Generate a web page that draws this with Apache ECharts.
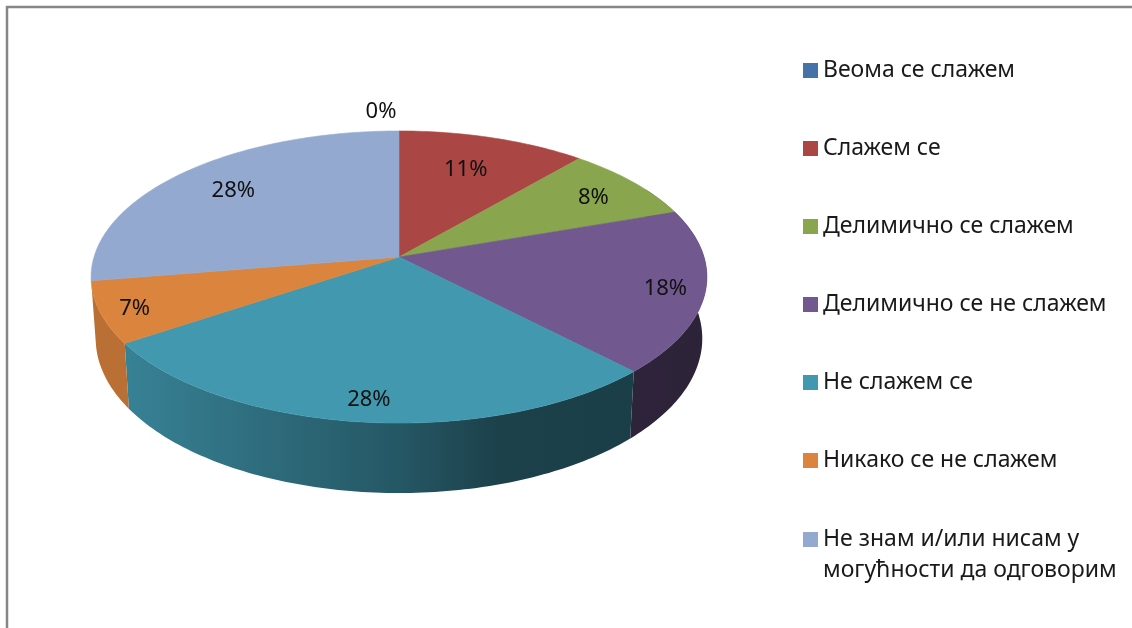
<!DOCTYPE html>
<html>
<head>
<meta charset="utf-8">
<style>
	html, body { margin: 0; padding: 0; background: #fff; }
	#chart { width: 1132px; height: 628px; }
</style>
<script src="https://cdn.jsdelivr.net/npm/echarts@6/dist/echarts.min.js"></script>
</head>
<body>
<div id="chart"></div>
<script>
var categories = ['Веома се слажем', 'Слажем се', 'Делимично се слажем', 'Делимично се не слажем', 'Не слажем се', 'Никако се не слажем', 'Не знам и/или нисам у\nмогућности да одговорим'];
var shares = [0, 11.3, 8.4, 18.1, 27.8, 6.8, 27.6];
var colors = ['#4572A7', '#AA4643', '#89A54E', '#71588F', '#4198AF', '#DB843D', '#93A9CF'];

// where each percent label sits: fraction of the radius, and a sideways nudge in px
var labelRadius = [1.2, 0.73, 0.81, 0.87, 0.87, 0.9, 0.79];
var labelNudge = [-18, -4, 2, 1, 2, 3, 6];

var total = 0;
var starts = [];
for (var i = 0; i < shares.length; i++) {
	starts.push(total);
	total += shares[i];
}

// perspective look of the disc, excel style
var cx = 399, cy = 257, rx = 305, ry = 143.3, tilt = 0.137;
var wallHeight = 60.4, wallShrink = 0.985;

function project(deg, r) {
	var t = deg * Math.PI / 180;
	var u = Math.sin(t) * r;
	var v = -Math.cos(t) * r;
	var p = 1 / (1 - tilt * v);
	return { x: cx + rx * u * p, y: cy + ry * v * p, p: p };
}

function shade(hex, f) {
	var c = echarts.color.parse(hex);
	return 'rgb(' + Math.round(c[0] * f) + ',' + Math.round(c[1] * f) + ',' + Math.round(c[2] * f) + ')';
}

function wallFill(hex) {
	return new echarts.graphic.LinearGradient(92, 0, 708, 0, [
		{ offset: 0, color: shade(hex, 0.85) },
		{ offset: 0.06, color: shade(hex, 0.85) },
		{ offset: 0.5, color: shade(hex, 0.57) },
		{ offset: 0.66, color: shade(hex, 0.43) },
		{ offset: 1, color: shade(hex, 0.4) }
	], true);
}

function renderSlice(params, api) {
	var idx = params.seriesIndex;
	var value = api.value(0);
	var from = starts[idx] / total * 360;
	var to = (starts[idx] + value) / total * 360;
	var children = [];
	var d, pt;

	if (value > 0) {
		// top face
		var top = [[cx, cy]];
		for (d = from; d < to; d += 1) {
			pt = project(d, 1);
			top.push([pt.x, pt.y]);
		}
		pt = project(to, 1);
		top.push([pt.x, pt.y]);
		children.push({
			type: 'polygon',
			z2: 2,
			shape: { points: top },
			style: { fill: colors[idx], stroke: colors[idx], lineWidth: 0.6 }
		});

		// side wall, only the part facing us
		var a = Math.max(from, 60);
		var b = Math.min(to, 260.5);
		if (b > a) {
			var upper = [], lower = [];
			for (d = a; d <= b; d = Math.min(d + 1, b)) {
				pt = project(d, 1);
				upper.push([pt.x, pt.y]);
				lower.unshift([cx + (pt.x - cx) * wallShrink, pt.y + wallHeight * pt.p]);
				if (d === b) break;
			}
			children.push({
				type: 'polygon',
				z2: 1,
				shape: { points: upper.concat(lower) },
				style: { fill: wallFill(colors[idx]), stroke: null }
			});
		}
	}

	var mid = project((from + to) / 2, labelRadius[idx]);
	children.push({
		type: 'text',
		z2: 3,
		style: {
			x: mid.x + labelNudge[idx],
			y: mid.y + 2,
			text: Math.round(value / total * 100) + '%',
			font: '22px "Noto Sans"',
			fill: '#111',
			align: 'center',
			verticalAlign: 'middle'
		}
	});
	return { type: 'group', children: children };
}

var series = [];
for (var i = 0; i < categories.length; i++) {
	series.push({
		name: categories[i],
		type: 'custom',
		coordinateSystem: 'none',
		renderItem: renderSlice,
		itemStyle: { color: colors[i] },
		data: [[shares[i]]],
		silent: true
	});
}

var legendText = {
	fontFamily: 'Noto Sans',
	fontSize: 23,
	lineHeight: 31,
	color: '#1a1a1a'
};

var myChart = echarts.init(document.getElementById('chart'));
var option = {
	animation: false,
	backgroundColor: '#fff',
	legend: [{
		orient: 'vertical',
		left: 798,
		top: 50,
		itemWidth: 15,
		itemHeight: 15,
		itemGap: 47,
		icon: 'rect',
		selectedMode: false,
		data: categories.slice(0, 6),
		textStyle: legendText
	}, {
		// two row name gets its own legend, the blank first line keeps
		// the marker beside the first row
		orient: 'vertical',
		left: 798,
		top: 488,
		itemWidth: 15,
		itemHeight: 15,
		icon: 'rect',
		selectedMode: false,
		data: categories.slice(6),
		formatter: function(name) {
			return '\n' + name;
		},
		textStyle: legendText
	}],
	graphic: [{
		type: 'polyline',
		shape: { points: [[7, 628], [7, 7], [1132, 7]] },
		style: { fill: null, stroke: '#868686', lineWidth: 2.5 }
	}],
	series: series
};
myChart.setOption(option);
</script>
</body>
</html>
